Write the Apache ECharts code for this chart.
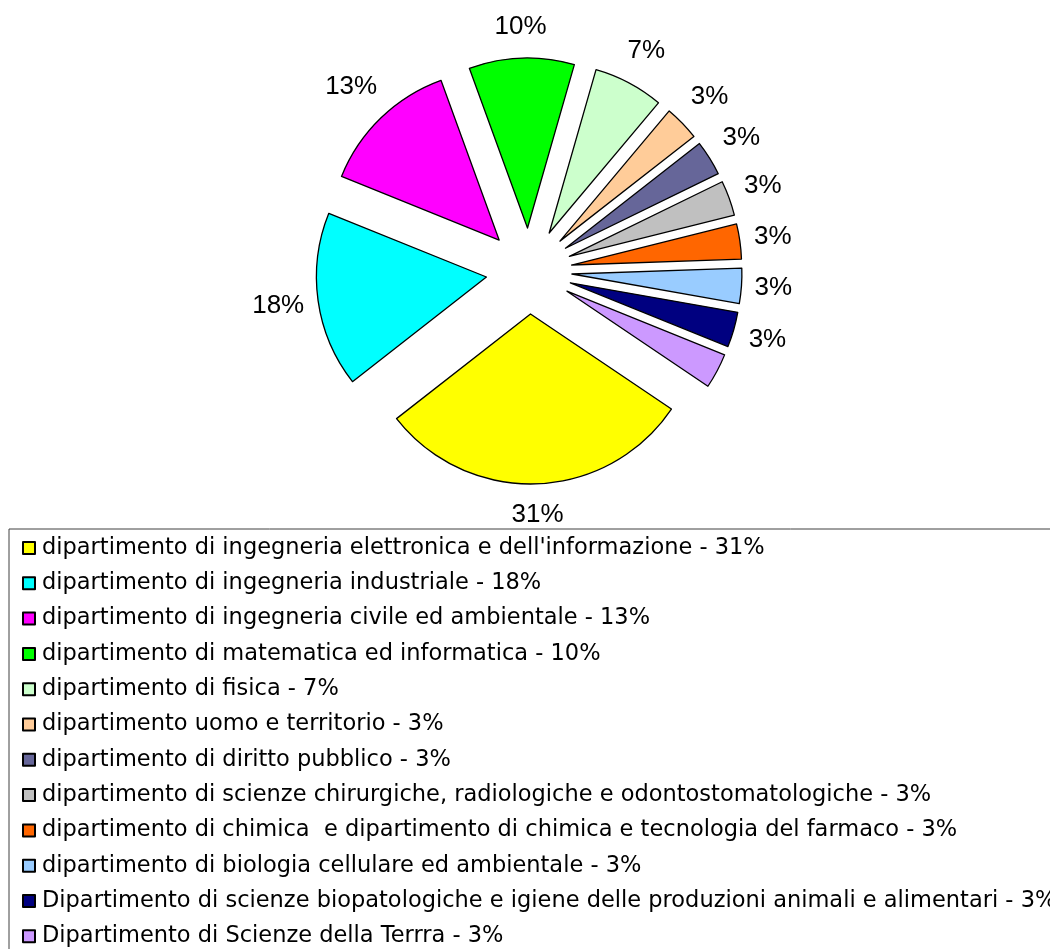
<!DOCTYPE html>
<html>
<head>
<meta charset="utf-8">
<title>Dipartimenti</title>
<script src="https://cdn.jsdelivr.net/npm/echarts@6/dist/echarts.min.js"></script>
<style>
  html, body { margin: 0; padding: 0; background: #fff; }
  #chart { width: 1050px; height: 949px; }
</style>
</head>
<body>
<div id="chart"></div>
<script>
// slice names, in drawing order (clockwise from the yellow one)
const departments = [
  "dipartimento di ingegneria elettronica e dell'informazione",
  'dipartimento di ingegneria industriale',
  'dipartimento di ingegneria civile ed ambientale',
  'dipartimento di matematica ed informatica',
  'dipartimento di fisica',
  'dipartimento uomo e territorio',
  'dipartimento di diritto pubblico',
  'dipartimento di scienze chirurgiche, radiologiche e odontostomatologiche',
  'dipartimento di chimica  e dipartimento di chimica e tecnologia del farmaco',
  'dipartimento di biologia cellulare ed ambientale',
  'Dipartimento di scienze biopatologiche e igiene delle produzioni animali e alimentari',
  'Dipartimento di Scienze della Terrra'
]
// slice sizes as drawn (angles)
const counts = [9, 5, 4, 3, 2, 1, 1, 1, 1, 1, 1, 1]
// percentages as printed on the chart
const shownPct = [31, 18, 13, 10, 7, 3, 3, 3, 3, 3, 3, 3]
// the last slice has no data label in the original
const hasLabel = [true, true, true, true, true, true, true, true, true, true, true, false]
const colors = [
  '#ffff00', '#00ffff', '#ff00ff', '#00ff00', '#ccffcc', '#ffcc99',
  '#666699', '#c0c0c0', '#ff6600', '#99ccff', '#000080', '#cc99ff'
]

const center = [529, 271]
const radius = 170
const explode = 43
const startAngle = -34

const chart = echarts.init(document.getElementById('chart'))

// mid angle (screen, radians) of each slice
const total = counts.reduce((a, b) => a + b, 0)
const midAngles = []
let acc = -startAngle * Math.PI / 180
counts.forEach(v => {
  const span = v / total * Math.PI * 2
  midAngles.push(acc + span / 2)
  acc += span
})

const option = {
  animation: false,
  legend: {
    orient: 'vertical',
    left: 9,
    top: 529,
    height: 440,
    padding: [6, 30, 40, 13],
    itemWidth: 12,
    itemHeight: 12,
    itemGap: 9.3,
    icon: 'rect',
    borderColor: '#404040',
    borderWidth: 1,
    selectedMode: false,
    formatter: name => name + ' - ' + shownPct[departments.indexOf(name)] + '%',
    textStyle: {
      fontFamily: 'DejaVu Sans',
      fontSize: 22.5,
      lineHeight: 26,
      color: '#000',
      padding: [0, 0, 0, 2]
    }
  },
  series: [
    {
      type: 'pie',
      center: center,
      radius: radius,
      startAngle: startAngle,
      clockwise: true,
      selectedMode: 'multiple',
      selectedOffset: explode,
      avoidLabelOverlap: false,
      itemStyle: { borderColor: '#000', borderWidth: 1.3 },
      emphasis: { disabled: true },
      label: {
        show: true,
        position: 'outside',
        fontFamily: 'Liberation Sans',
        fontSize: 26,
        color: '#000',
        formatter: p => shownPct[p.dataIndex] + '%'
      },
      labelLine: { show: false },
      // centre each label on the bisector just outside the arc
      // (the explode offset is added afterwards by the selected state)
      labelLayout: p => {
        const a = midAngles[p.dataIndex]
        const ux = Math.cos(a), uy = Math.sin(a)
        const r = p.labelRect
        const d = radius + 12 + Math.abs(ux) * r.width / 2 + Math.abs(uy) * 18
        const tx = center[0] + ux * d
        const ty = center[1] + uy * d
        return {
          dx: tx - (r.x + r.width / 2),
          dy: ty - (r.y + r.height / 2)
        }
      },
      data: departments.map((name, i) => ({
        name: name,
        value: counts[i],
        selected: true,
        itemStyle: { color: colors[i] },
        label: { show: hasLabel[i] }
      }))
    }
  ]
}

chart.setOption(option)
window.addEventListener('resize', () => chart.resize())
</script>
</body>
</html>
